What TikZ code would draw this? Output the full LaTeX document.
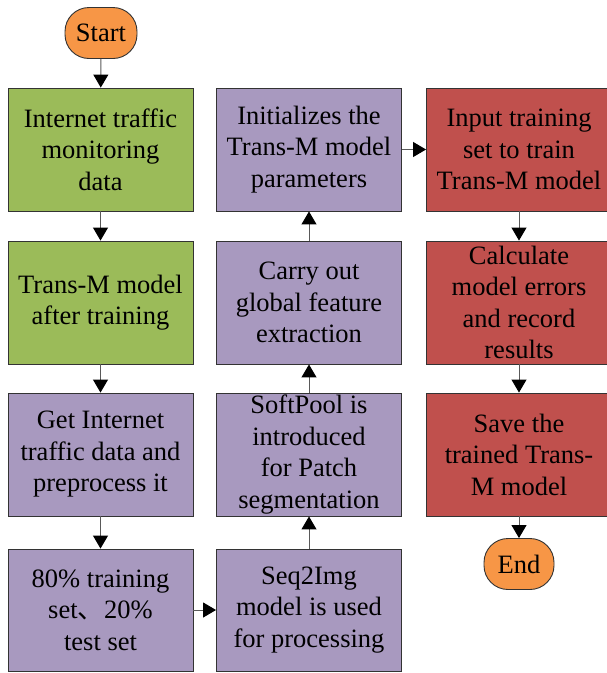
\documentclass[tikz,border=0pt]{standalone}
\usepackage{fontspec}
\setmainfont{Liberation Serif}
\newfontfamily\cjk{Noto Sans CJK SC}
\usetikzlibrary{arrows.meta}
\definecolor{cgreen}{HTML}{9BBB59}
\definecolor{cpurple}{HTML}{A899BF}
\definecolor{cred}{HTML}{C0504D}
\definecolor{corange}{HTML}{F79646}
\tikzset{
  box/.style={draw=black!80, line width=0.9pt, minimum width=185pt, minimum height=123pt,
    align=center, inner sep=0pt, font=\fontsize{26.5}{31.5}\selectfont},
  gbox/.style={box, fill=cgreen},
  pbox/.style={box, fill=cpurple},
  rbox/.style={box, fill=cred},
  term/.style={draw=black!80, line width=0.9pt, fill=corange, rounded corners=24pt,
    minimum height=51pt, inner sep=0pt, font=\fontsize{26.5}{31.5}\selectfont},
  arr/.style={draw=black!65, line width=1pt, -{Triangle[width=15pt,length=13pt,color=black]}}
}
\begin{document}
\begin{tikzpicture}[x=1pt,y=-1pt]
\useasboundingbox (0,0) rectangle (607,673);
\node[term, minimum width=72pt] (start) at (101,33) {Start};
\node[gbox] (b1) at (100.5,149.5) {Internet traffic\\monitoring\\data};
\node[gbox] (b2) at (100.5,302.5) {Trans-M model\\after training};
\node[pbox] (b3) at (100.5,454.5) {Get Internet\\traffic data and\\preprocess it};
\node[pbox, minimum height=122pt] (b4) at (100.5,610) {80\% training\\set{\cjk 、}20\%\\test set};
\node[pbox, minimum height=122pt] (c4) at (309,610) {Seq2Img\\model is used\\for processing};
\node[pbox] (c3) at (309,454.5) {SoftPool is\\introduced\\for Patch\\segmentation};
\node[pbox] (c2) at (309,302.5) {Carry out\\global feature\\extraction};
\node[pbox] (c1) at (309,149.5) {Initializes the\\Trans-M model\\parameters};
\node[rbox] (r1) at (519,149.5) {Input training\\set to train\\Trans-M model};
\node[rbox] (r2) at (519,302.5) {Calculate\\model errors\\and record\\results};
\node[rbox] (r3) at (519,454.5) {Save the\\trained Trans-\\M model};
\node[term, minimum width=70pt] (end) at (519,564) {End};
\draw[arr] (start) -- (b1);
\draw[arr] (b1) -- (b2);
\draw[arr] (b2) -- (b3);
\draw[arr] (b3) -- (b4);
\draw[arr] (b4) -- (c4);
\draw[arr] (c4) -- (c3);
\draw[arr] (c3) -- (c2);
\draw[arr] (c2) -- (c1);
\draw[arr] (c1) -- (r1);
\draw[arr] (r1) -- (r2);
\draw[arr] (r2) -- (r3);
\draw[arr] (r3) -- (end);
\end{tikzpicture}
\end{document}
